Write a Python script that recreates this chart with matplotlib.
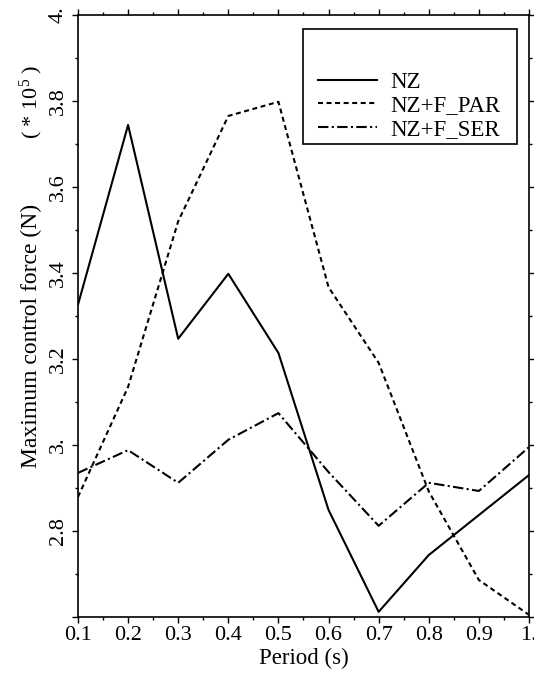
import matplotlib
matplotlib.use("Agg")
import matplotlib.pyplot as plt
from matplotlib.patches import Rectangle
from matplotlib.ticker import MultipleLocator

# Control-force peaks versus structural period
period = [0.1, 0.2, 0.3, 0.4, 0.5, 0.6, 0.7, 0.8, 0.9, 1.0]
nz = [3.326, 3.744, 3.247, 3.398, 3.214, 2.849, 2.612, 2.744, 2.837, 2.930]
nz_f_par = [2.879, 3.135, 3.52, 3.765, 3.798, 3.367, 3.191, 2.892, 2.686, 2.605]
nz_f_ser = [2.935, 2.988, 2.912, 3.012, 3.074, 2.937, 2.812, 2.912, 2.893, 2.995]

series_labels = ["NZ", "NZ+F_PAR", "NZ+F_SER"]
x_ticks = [0.1, 0.2, 0.3, 0.4, 0.5, 0.6, 0.7, 0.8, 0.9, 1.0]
x_tick_labels = ["0.1", "0.2", "0.3", "0.4", "0.5", "0.6", "0.7", "0.8", "0.9", "1."]
y_ticks = [2.6, 2.8, 3.0, 3.2, 3.4, 3.6, 3.8, 4.0]
y_tick_labels = ["", "2.8", "3.", "3.2", "3.4", "3.6", "3.8", "4."]

plt.rcParams["font.family"] = ["Liberation Serif", "DejaVu Serif"]
plt.rcParams["mathtext.fontset"] = "custom"
plt.rcParams["mathtext.rm"] = "Liberation Serif"
plt.rcParams["mathtext.it"] = "Liberation Serif"
FS = 16

fig = plt.figure(figsize=(5.34, 6.78), dpi=100)
ax = fig.add_axes([0.146, 0.090, 0.8446, 0.888])

lw = 1.5
l1, = ax.plot(period, nz, color="black", lw=lw, linestyle="-")
l2, = ax.plot(period, nz_f_par, color="black", lw=lw, linestyle=(0, (2.4, 1.7)))
l3, = ax.plot(period, nz_f_ser, color="black", lw=lw, linestyle=(0, (5.0, 1.6, 1.0, 1.6)))

ax.set_xlim(0.1, 1.0)
ax.set_ylim(2.6, 4.0)
ax.set_xticks(x_ticks)
ax.set_xticklabels(x_tick_labels, fontsize=FS)
ax.set_yticks(y_ticks)
ax.set_yticklabels(y_tick_labels, fontsize=FS, rotation=90, va="center")
ax.xaxis.set_minor_locator(MultipleLocator(0.05))
ax.yaxis.set_minor_locator(MultipleLocator(0.1))
ax.tick_params(which="both", direction="out", top=True, right=True, width=1.0)
ax.tick_params(which="major", length=4.5)
ax.tick_params(axis="x", which="major", pad=2)
ax.tick_params(axis="y", which="major", pad=3)
ax.tick_params(which="minor", length=2.5)
for s in ax.spines.values():
    s.set_linewidth(1.2)

ax.set_xlabel("Period (s)", fontsize=FS + 0.5, labelpad=2)
fig.text(0.058, 0.505, "Maximum control force (N)", rotation=90,
         ha="center", va="center", fontsize=FS + 1)
fig.text(0.058, 0.85, "( * 10$^{5}$ )", rotation=90,
         ha="center", va="center", fontsize=FS)

# Legend with an enlarged frame
ax.add_patch(Rectangle((0.499, 0.786), 0.474, 0.191, transform=ax.transAxes,
                       fill=False, lw=1.2, ec="black", zorder=5))
ax.legend([l1, l2, l3], series_labels, loc="center left",
          bbox_to_anchor=(0.532, 0.849), frameon=False, fontsize=FS + 0.5,
          borderpad=0, borderaxespad=0, handlelength=2.6,
          handletextpad=0.55, labelspacing=0.1)

fig.savefig("out.png", dpi=100)
